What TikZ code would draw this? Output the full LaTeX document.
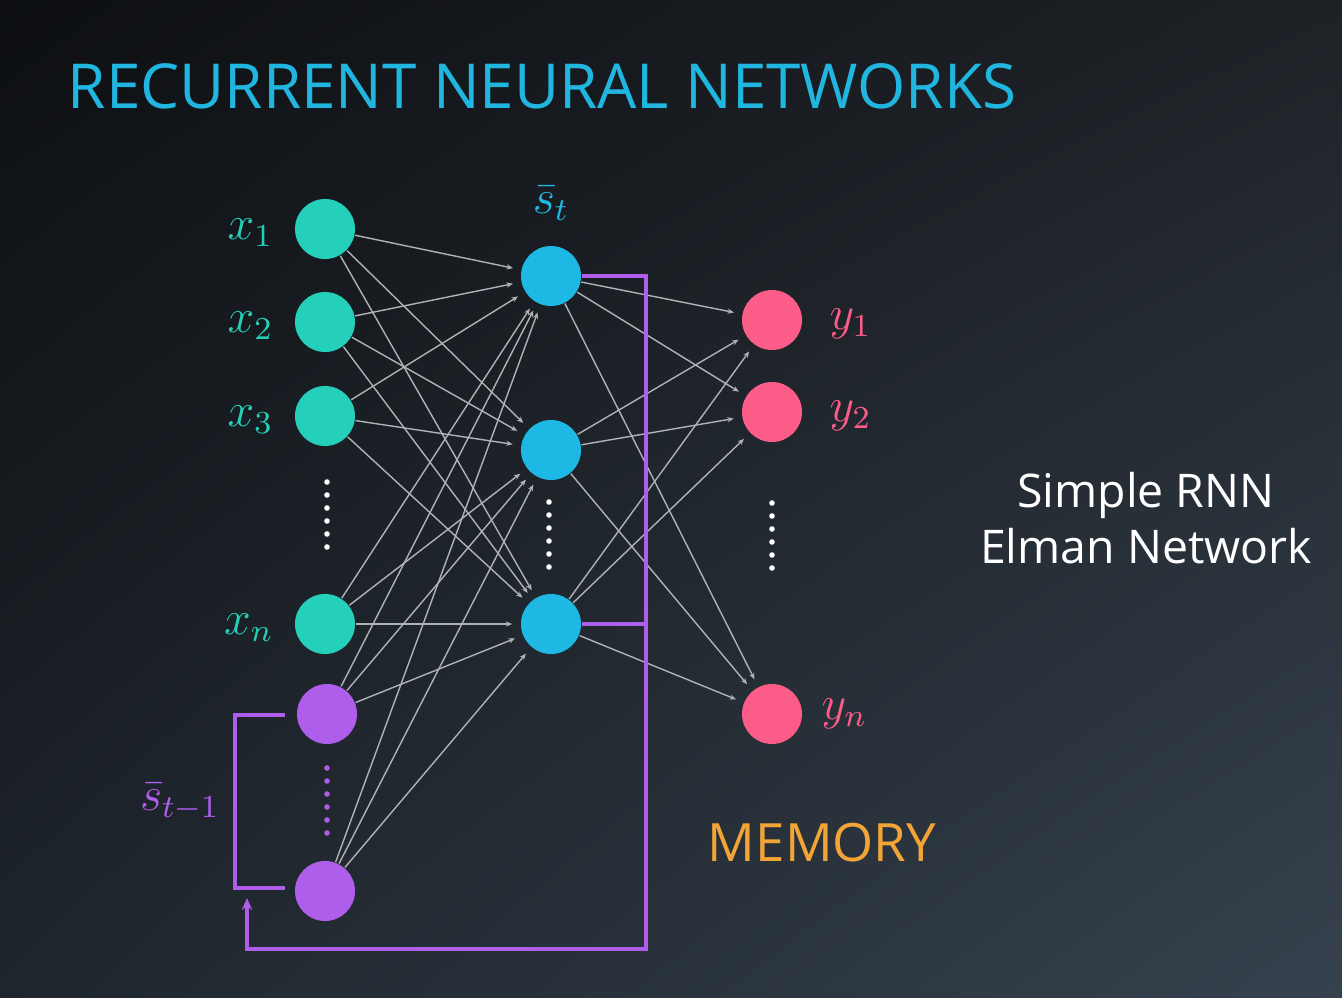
\documentclass[tikz,border=0pt]{standalone}
\usepackage{fontspec}
\newfontfamily\slidefont{Open Sans}
\usetikzlibrary{
    arrows.meta,
    positioning,
    shadings
}
\definecolor{bgdark}{RGB}{13,15,18}
\definecolor{bgtopright}{RGB}{30,34,39}
\definecolor{bgbotleft}{RGB}{30,37,44}
\definecolor{bglight}{RGB}{54,66,78}
\definecolor{inputcol}{RGB}{36,208,186}
\definecolor{hiddencol}{RGB}{30,184,228}
\definecolor{outputcol}{RGB}{252,92,136}
\definecolor{memcol}{RGB}{174,94,234}
\definecolor{titlecol}{RGB}{32,182,224}
\definecolor{memtext}{RGB}{242,164,54}
\definecolor{wire}{RGB}{176,178,182}
\tikzset{
    line cap=round,
    line join=round,
    neuron/.style={
        circle,
        draw=none,
        inner sep=0pt,
        minimum size=15pt
    },
    innode/.style={neuron, fill=inputcol},
    memnode/.style={neuron, fill=memcol},
    hidnode/.style={neuron, fill=hiddencol},
    outnode/.style={neuron, fill=outputcol},
    weight/.style={
        -{Stealth[length=1.6pt,width=1.3pt]},
        draw=wire,
        line width=0.35pt,
        shorten >=2pt
    },
    memline/.style={
        draw=memcol,
        line width=0.9pt,
        line cap=butt,
        line join=miter
    },
    memarrow/.style={
        memline,
        -{Stealth[length=3pt,width=2.6pt]}
    },
    dotmark/.style={
        circle,
        fill=white,
        inner sep=0pt,
        minimum size=1.4pt
    },
    mathlabel/.style={
        inner sep=0pt,
        font=\large
    },
    slidetext/.style={
        inner sep=0pt,
        font=\slidefont
    }
}

\begin{document}
\begin{tikzpicture}[x=0.25pt, y=-0.25pt]
\useasboundingbox (0,0) rectangle (1342,998);
% slide background
\shade[upper left=bgdark, upper right=bgtopright, lower left=bgbotleft, lower right=bglight]
    (0,0) rectangle (1342,998);

% Title
\node[slidetext, anchor=west, text=titlecol, font=\slidefont\fontsize{15.5}{18.5}\selectfont]
    (title) at (67,86) {RECURRENT NEURAL NETWORKS};

% Input layer
\node[innode] (x1) at (325,229) {};
\node[innode] (x2) at (325,322) {};
\node[innode] (x3) at (325,416) {};
\node[innode] (xn) at (325,624) {};
% Memory (previous state) inputs
\node[memnode] (m1) at (327,714) {};
\node[memnode] (m2) at (325,891) {};

% Hidden layer
\node[hidnode] (h1) at (551,276) {};
\node[hidnode] (h2) at (551,450) {};
\node[hidnode] (h3) at (551,624) {};

% Output layer
\node[outnode] (y1) at (772,320) {};
\node[outnode] (y2) at (772,412) {};
\node[outnode] (yn) at (772,714) {};

% Weights
\foreach \src in {x1,x2,x3,xn,m1,m2}
    \foreach \dst in {h1,h2,h3}
        \draw[weight] (\src) -- (\dst);
\foreach \src in {h1,h2,h3}
    \foreach \dst in {y1,y2,yn}
        \draw[weight] (\src) -- (\dst);

% Ellipsis dots
\foreach \k in {0,...,5} {
    \node[dotmark] (dx\k) at (327,482+13*\k) {};
    \node[dotmark] (dh\k) at (549,502+13*\k) {};
    \node[dotmark] (dy\k) at (772,503+13*\k) {};
    \node[dotmark, fill=memcol] (dm\k) at (327,768+13*\k) {};
}

% Feedback loop (memory)
\coordinate (busTop) at (646,276);
\coordinate (busBot) at (646,949);
\coordinate (retBot) at (247,949);
\coordinate (retEnd) at (247,898);
\draw[memarrow] (h1.east) -- (busTop) -- (busBot) -- (retBot) -- (retEnd);
\draw[memline] (h3.east) -- (busTop |- h3);

% Bracket round the memory inputs
\coordinate (brTop) at (285,715);
\coordinate (brBot) at (285,888);
\draw[memline] (brTop) -- ++(-50,0) |- (brBot);

% Labels
\node[mathlabel, text=inputcol, left=5pt of x1, yshift=-1pt] (lx1) {$x_1$};
\node[mathlabel, text=inputcol, left=5pt of x2, yshift=-1pt] (lx2) {$x_2$};
\node[mathlabel, text=inputcol, left=5pt of x3, yshift=-1pt] (lx3) {$x_3$};
\node[mathlabel, text=inputcol, left=5pt of xn, yshift=-1pt] (lxn) {$x_n$};
\node[mathlabel, text=hiddencol, above=6pt of h1] (lst) {$\bar{s}_t$};
\node[mathlabel, text=memcol] (lsprev) at (180,802) {$\bar{s}_{t-1}$};
\node[mathlabel, text=outputcol, right=6.5pt of y1, yshift=-1pt] (ly1) {$y_1$};
\node[mathlabel, text=outputcol, right=6.5pt of y2, yshift=-1pt] (ly2) {$y_2$};
\node[mathlabel, text=outputcol, right=4.5pt of yn] (lyn) {$y_n$};

\node[slidetext, text=memtext, font=\slidefont\fontsize{13.2}{16}\selectfont]
    (memory) at (822,843) {MEMORY};
\node[slidetext, text=white, align=center, font=\slidefont\fontsize{11.6}{13.8}\selectfont]
    (kind) at (1146,518) {Simple RNN\\Elman Network};
\end{tikzpicture}
\end{document}
